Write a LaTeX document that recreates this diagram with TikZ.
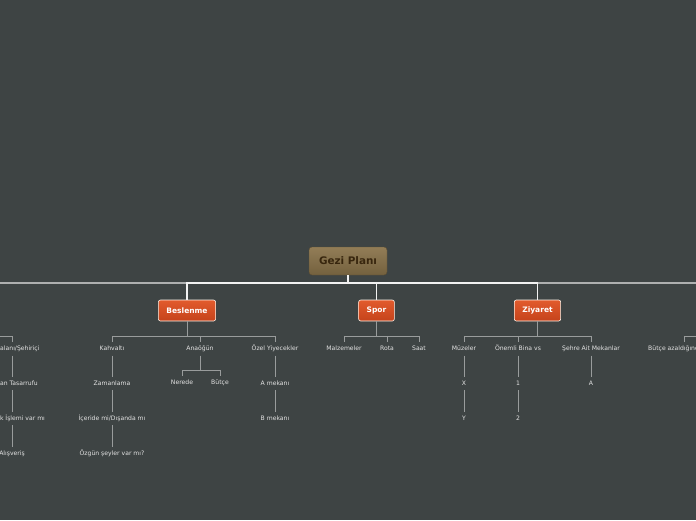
\documentclass[tikz,border=0pt]{standalone}
\usepackage{fontspec}
\setmainfont{DejaVu Sans}
\usetikzlibrary{positioning, calc}
\definecolor{bgdark}{HTML}{3E4444}
\definecolor{roottop}{HTML}{927D57}
\definecolor{rootbot}{HTML}{74613E}
\definecolor{roottext}{HTML}{38260E}
\definecolor{topictop}{HTML}{E25B2D}
\definecolor{topicbot}{HTML}{C5431B}
\definecolor{leaftext}{HTML}{E4E4E4}
\definecolor{linkgray}{HTML}{999C9C}
\definecolor{trunkgray}{HTML}{AEB0B0}

\begin{document}
\begin{tikzpicture}[
    x=1pt, y=-1pt,
    node distance=21.5pt,
    root/.style={rectangle, rounded corners=3pt, draw=rootbot!80!black, top color=roottop, bottom color=rootbot, text=roottext, font=\bfseries\fontsize{10.4}{12}\selectfont, inner xsep=10pt, minimum height=28pt},
    topic/.style={rectangle, rounded corners=2pt, draw=white!92!orange, line width=0.6pt, top color=topictop, bottom color=topicbot, text=white, font=\bfseries\fontsize{7.5}{9}\selectfont, inner xsep=8pt, minimum height=21pt},
    leaf/.style={text=leaftext, font=\fontsize{6.1}{7}\selectfont, inner xsep=1pt, inner ysep=3.5pt, text height=4.6pt, text depth=1.3pt},
    trunk/.style={draw=white!90!gray, line width=1.2pt},
    trunkside/.style={draw=trunkgray, line width=1.2pt},
    link/.style={draw=linkgray, line width=0.9pt}
]
\useasboundingbox (0,0) rectangle (696,520);
\fill[bgdark] (0,0) rectangle (696,520);
\clip (0,0) rectangle (696,520);

% Root and main topics
\node[root] (root) at (348,261) {Gezi Planı};
\node[topic] (bes) at (187,310.5) {Beslenme};
\node[topic] (spor) at (376.5,310.5) {Spor};
\node[topic] (ziy) at (537.5,310.5) {Ziyaret};

\coordinate (trk) at (0,283);
\coordinate (lft) at (-40,283);
\coordinate (rgt) at (740,283);
\draw[trunkside] (lft) -- (bes.north |- trk);
\draw[trunkside] (ziy.north |- trk) -- (rgt);
\draw[trunk] (bes.north) -- (bes.north |- trk) -- (ziy.north |- trk) -- (ziy.north);
\draw[trunk] (root.south) -- (root.south |- trk);
\draw[trunk] (spor.north) -- (spor.north |- trk);

% Beslenme
\node[leaf] (kah) at (112,349) {Kahvaltı};
\node[leaf, below=of kah] (zam) {Zamanlama};
\node[leaf, below=of zam] (ice) {İçeride mi/Dışanda mı};
\node[leaf, below=of ice] (ozg) {Özgün şeyler var mı?};
\node[leaf] (ana) at (200,349) {Anaöğün};
\node[leaf] (ner) at (182,383) {Nerede};
\node[leaf] (but) at (220,383) {Bütçe};
\node[leaf] (ozel) at (275,349) {Özel Yiyecekler};
\node[leaf, below=of ozel] (amek) {A mekanı};
\node[leaf, below=of amek] (bmek) {B mekanı};

% Spor
\node[leaf] (malz) at (344,349) {Malzemeler};
\node[leaf] (rota) at (387,349) {Rota};
\node[leaf] (saat) at (419,349) {Saat};

% Ziyaret
\node[leaf] (muz) at (464,349) {Müzeler};
\node[leaf, below=of muz] (mx) {X};
\node[leaf, below=of mx] (my) {Y};
\node[leaf] (onem) at (518,349) {Önemli Bina vs};
\node[leaf, below=of onem] (one) {1};
\node[leaf, below=of one] (two) {2};
\node[leaf] (sehre) at (591,349) {Şehre Ait Mekanlar};
\node[leaf, below=of sehre] (sa) {A};

% Side branches (cut by the page edge)
\node[leaf] (hav) at (12,349) {Havaalanı/Şehiriçi};
\node[leaf, below=of hav] (zt) {Zaman Tasarrufu};
\node[leaf, below=of zt] (gum) {Gümrük İşlemi var mı};
\node[leaf, below=of gum] (alis) {Alışveriş};
\node[leaf, anchor=west] (baz) at (647,349) {Bütçe azaldığında};
\coordinate (lb) at (-40,336);
\coordinate (rb) at (740,336);

% Connectors
\coordinate (br) at (0,336);
\foreach \c in {kah,ana,ozel}
  \draw[link] (bes.south) -- (bes.south |- br) -| (\c.north);
\foreach \c in {malz,rota,saat}
  \draw[link] (spor.south) -- (spor.south |- br) -| (\c.north);
\foreach \c in {muz,onem,sehre}
  \draw[link] (ziy.south) -- (ziy.south |- br) -| (\c.north);
\foreach \c in {ner,but}
  \draw[link] (ana.south) -- ($(ana.south)+(0,15)$) -| (\c.north);
\foreach \a/\b in {kah/zam, zam/ice, ice/ozg, ozel/amek, amek/bmek, muz/mx, mx/my, onem/one, one/two, sehre/sa, hav/zt, zt/gum, gum/alis}
  \draw[link] (\a.south) -- (\b.north);
\draw[link] (lb) -| (hav.north);
\draw[link] (rb) -| (684,0 |- baz.north);
\end{tikzpicture}
\end{document}
